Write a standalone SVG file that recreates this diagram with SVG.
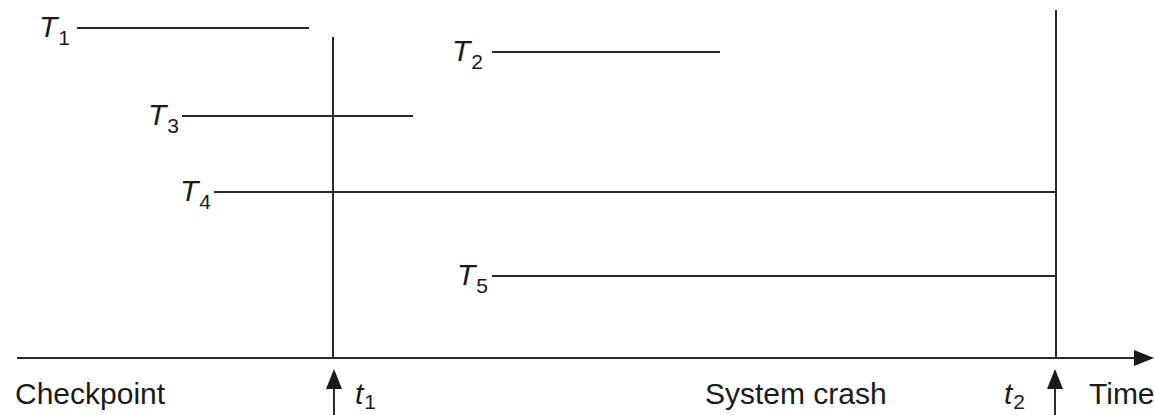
<svg xmlns="http://www.w3.org/2000/svg" width="1154" height="415" viewBox="0 0 1154 415">
<style>
.ln{stroke:#2a2a2a;stroke-width:2;fill:none}
.lbl{font-family:"Liberation Sans",Arial,sans-serif;font-size:30px;fill:#1a1a1a}
.it{font-style:italic}
.sub{font-size:21px;font-style:normal}
</style>
<defs>
<marker id="ah" markerWidth="20" markerHeight="16" refX="18" refY="8" orient="auto" markerUnits="userSpaceOnUse">
<path d="M0,0 L20,8 L0,16 Z" fill="#1a1a1a"/>
</marker>
</defs>
<g id="connectors">
<line class="ln" x1="17" y1="358" x2="1152" y2="358" marker-end="url(#ah)"/>
<line class="ln" x1="333" y1="37" x2="333" y2="358"/>
<line class="ln" x1="1056" y1="10" x2="1056" y2="358"/>
<line class="ln" x1="334" y1="415" x2="334" y2="371" marker-end="url(#ah)"/>
<line class="ln" x1="1055" y1="415" x2="1055" y2="371" marker-end="url(#ah)"/>
</g>
<g id="T1"><line class="ln" x1="77" y1="28" x2="309" y2="28"/><text class="lbl it" x="39" y="37">T<tspan class="sub" dx="1" dy="8">1</tspan></text></g>
<g id="T2"><line class="ln" x1="492" y1="52" x2="720" y2="52"/><text class="lbl it" x="452" y="61">T<tspan class="sub" dx="1" dy="8">2</tspan></text></g>
<g id="T3"><line class="ln" x1="182" y1="116" x2="413" y2="116"/><text class="lbl it" x="148" y="125">T<tspan class="sub" dx="1" dy="8">3</tspan></text></g>
<g id="T4"><line class="ln" x1="214" y1="192" x2="1056" y2="192"/><text class="lbl it" x="180" y="201">T<tspan class="sub" dx="1" dy="8">4</tspan></text></g>
<g id="T5"><line class="ln" x1="492" y1="276" x2="1056" y2="276"/><text class="lbl it" x="457" y="285">T<tspan class="sub" dx="1" dy="8">5</tspan></text></g>
<g id="labels">
<text class="lbl" x="15" y="404">Checkpoint</text>
<text class="lbl it" x="355" y="404">t<tspan class="sub" dx="1" dy="5">1</tspan></text>
<text class="lbl" x="705" y="404">System crash</text>
<text class="lbl it" x="1004" y="404">t<tspan class="sub" dx="1" dy="5">2</tspan></text>
<text class="lbl" x="1089" y="404" font-size="28">Time</text>
</g>
</svg>
